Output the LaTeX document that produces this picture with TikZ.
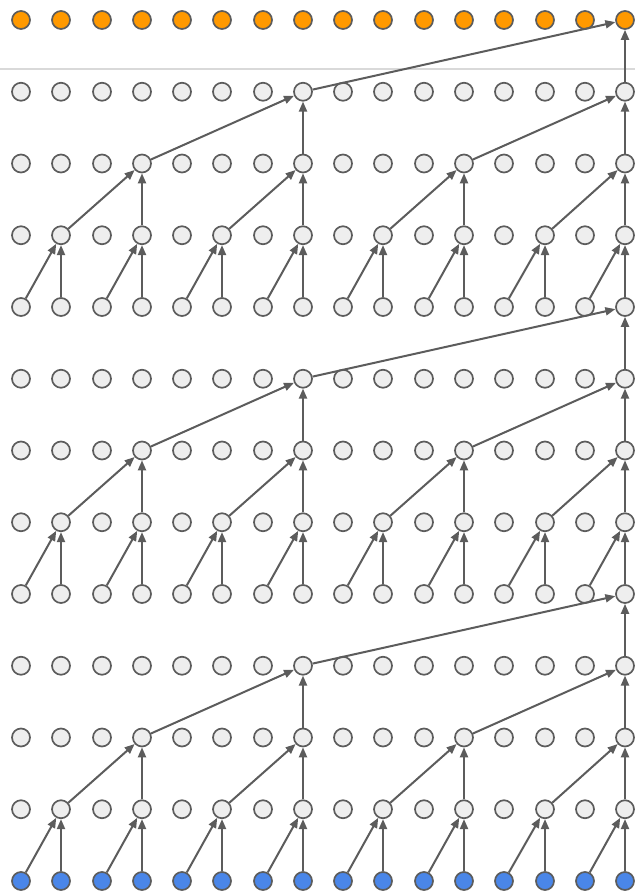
\documentclass[tikz,border=0pt]{standalone}
\usetikzlibrary{arrows.meta}
\definecolor{edgecol}{HTML}{5C5C5C}
\definecolor{nodefill}{HTML}{EEEEEE}
\definecolor{bluefill}{HTML}{4A86E8}
\definecolor{orangefill}{HTML}{FF9900}
\definecolor{sepcol}{HTML}{D9D9D9}
\tikzset{
  dot/.style={circle, draw=edgecol, line width=1.7bp, minimum size=18bp, inner sep=0pt, fill=nodefill},
  bluedot/.style={dot, fill=bluefill},
  orangedot/.style={dot, fill=orangefill},
  edge/.style={draw=edgecol, line width=2bp, -{Triangle[length=10bp,width=8bp]}}
}
\begin{document}
\begin{tikzpicture}[x=1bp,y=1bp]
\useasboundingbox (0,0) rectangle (635,892);
\draw[sepcol, line width=2bp] (0,823) -- (635,823);
\foreach \i in {0,...,15} {
  \pgfmathtruncatemacro\xx{round(21+40.27*\i)}
  \node[bluedot] (n-\i-0) at (\xx,11) {};
  \foreach \r in {1,...,11} {
    \node[dot] (n-\i-\r) at (\xx,{11+71.75*\r}) {};
  }
  \node[orangedot] (n-\i-12) at (\xx,{11+71.75*12}) {};
}
\foreach \s in {0,1,2} {
  \foreach \l/\d/\cols in {1/1/{1,3,5,7,9,11,13,15}, 2/2/{3,7,11,15}, 3/4/{7,15}, 4/8/{15}} {
    \pgfmathtruncatemacro\r{4*\s+\l-1}
    \pgfmathtruncatemacro\rr{\r+1}
    \foreach \i in \cols {
      \pgfmathtruncatemacro\j{\i-\d}
      \draw[edge] (n-\j-\r) -- (n-\i-\rr);
      \draw[edge] (n-\i-\r) -- (n-\i-\rr);
    }
  }
}
\end{tikzpicture}
\end{document}
